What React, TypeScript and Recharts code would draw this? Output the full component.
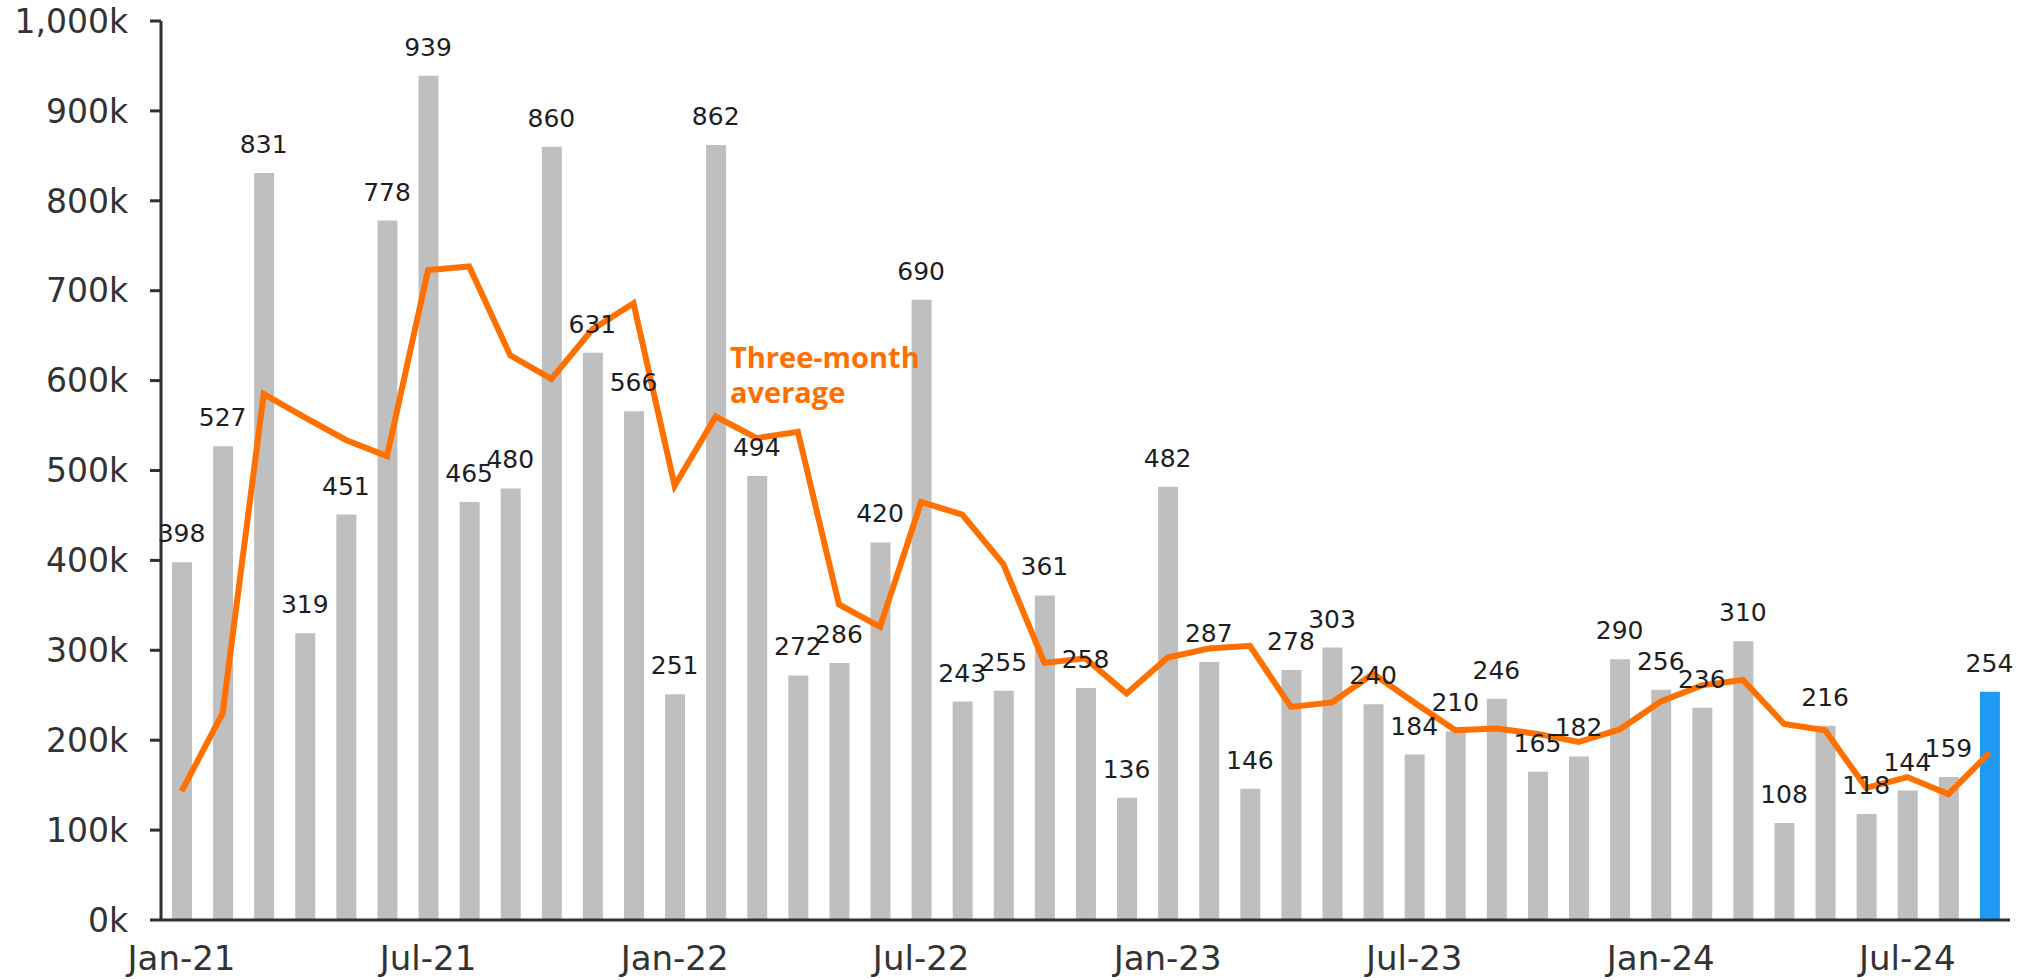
import { Bar, Cell, ComposedChart, LabelList, Line, XAxis, YAxis } from "recharts";

// monthly totals (thousands), Jan-21 .. Sep-24
const months = [
  "Jan-21", "Feb-21", "Mar-21", "Apr-21", "May-21", "Jun-21", "Jul-21", "Aug-21", "Sep-21", "Oct-21", "Nov-21", "Dec-21",
  "Jan-22", "Feb-22", "Mar-22", "Apr-22", "May-22", "Jun-22", "Jul-22", "Aug-22", "Sep-22", "Oct-22", "Nov-22", "Dec-22",
  "Jan-23", "Feb-23", "Mar-23", "Apr-23", "May-23", "Jun-23", "Jul-23", "Aug-23", "Sep-23", "Oct-23", "Nov-23", "Dec-23",
  "Jan-24", "Feb-24", "Mar-24", "Apr-24", "May-24", "Jun-24", "Jul-24", "Aug-24", "Sep-24",
];

const monthly = [
  398, 527, 831, 319, 451, 778, 939, 465, 480, 860, 631, 566,
  251, 862, 494, 272, 286, 420, 690, 243, 255, 361, 258, 136,
  482, 287, 146, 278, 303, 240, 184, 210, 246, 165, 182, 290,
  256, 236, 310, 108, 216, 118, 144, 159, 254,
];

const threeMonthAvg = [
  143, 230, 585, 559, 534, 516, 723, 727, 628, 602, 657, 686,
  483, 560, 536, 543, 351, 326, 465, 451, 396, 286, 291, 252,
  292, 302, 305, 237, 242, 274, 242, 211, 213, 207, 198, 212,
  243, 261, 267, 218, 211, 147, 159, 140, 186,
];

const yTicks = [0, 100, 200, 300, 400, 500, 600, 700, 800, 900, 1000];

const GREY = "#bfbfbf";
const BLUE = "#1e9af3";
const ORANGE = "#ff7000";
const AXIS = "#2f2f37";

const data = months.map((m, i) => ({ month: m, total: monthly[i], avg: threeMonthAvg[i] }));

export default function App() {
  return (
    <div style={{ position: "absolute", left: 0, top: 0, width: 2042, height: 980, background: "#fff" }}>
      <ComposedChart width={2042} height={980} data={data} margin={{ top: 21, right: 32, bottom: 0, left: 0 }}>
        <XAxis
          dataKey="month"
          interval={5}
          tickLine={false}
          tickSize={0}
          tickMargin={26}
          height={60}
          stroke={AXIS}
          strokeWidth={3}
          tick={{ fill: "#333", fontSize: 34, fontFamily: "DejaVu Sans" }}
        />
        <YAxis
          domain={[0, 1000]}
          ticks={yTicks}
          width={161}
          tickSize={11}
          tickMargin={22}
          stroke={AXIS}
          strokeWidth={3}
          tickFormatter={(v: number) => `${v.toLocaleString("en-US")}k`}
          tick={{ fill: "#333", fontSize: 33, fontFamily: "DejaVu Sans" }}
        />
        <Bar dataKey="total" barSize={20} isAnimationActive={false}>
          {data.map((_, i) => (
            <Cell key={i} fill={i === data.length - 1 ? BLUE : GREY} />
          ))}
        </Bar>
        <Line dataKey="avg" stroke={ORANGE} strokeWidth={6} dot={false} activeDot={false} isAnimationActive={false} />
        {/* invisible series, only carries the bar labels above the orange line */}
        <Line dataKey="total" stroke="none" dot={false} activeDot={false} isAnimationActive={false}>
          <LabelList dataKey="total" position="top" offset={20} fill="#1e1e1e" fontSize={25} fontFamily="DejaVu Sans" />
        </Line>
      </ComposedChart>
      <div
        style={{
          position: "absolute",
          left: 730,
          top: 339,
          color: ORANGE,
          fontFamily: "Open Sans",
          fontWeight: 700,
          fontSize: 29,
          lineHeight: "35px",
        }}
      >
        Three-month
        <br />
        average
      </div>
    </div>
  );
}
